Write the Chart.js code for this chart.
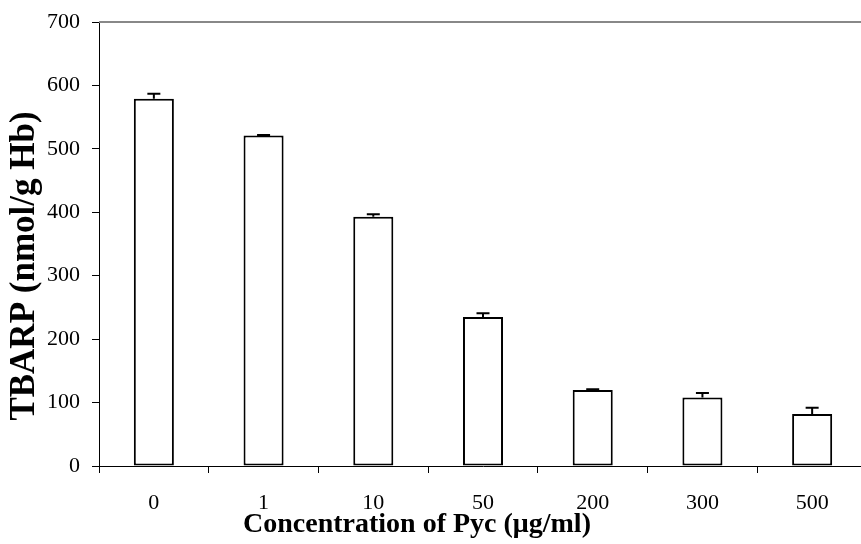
<!DOCTYPE html>
<html>
<head>
<meta charset="utf-8">
<script src="https://cdn.jsdelivr.net/npm/chart.js@4/dist/chart.umd.min.js"></script>
<style>
  html, body { margin: 0; padding: 0; background: #fff; overflow: hidden; }
  #wrap { width: 861px; height: 544px; overflow: hidden; }
</style>
</head>
<body>
<div id="wrap"><canvas id="chart" width="870" height="544"></canvas></div>
<script>
// concentrations of Pyc (ug/ml)
const concentrations = ['0', '1', '10', '50', '200', '300', '500'];
// TBARP (nmol/g Hb) and its error
const tbarp = [579, 521, 393, 235, 120, 108, 82];
const tbarpErr = [8, 1, 4, 6, 1, 7, 10];
const yTicks = [0, 100, 200, 300, 400, 500, 600, 700];

const xTitle = 'Concentration of Pyc (\u03bcg/ml)';
const yTitle = 'TBARP (nmol/g Hb)';

// error bars, drawn through the y scale
const errorBars = {
    id: 'errorBars',
    afterDatasetsDraw(chart) {
        const ctx = chart.ctx;
        const y = chart.scales.y;
        const meta = chart.getDatasetMeta(0);
        ctx.save();
        ctx.strokeStyle = '#000';
        ctx.lineWidth = 2;
        meta.data.forEach((bar, i) => {
            const top = y.getPixelForValue(tbarp[i] + tbarpErr[i]);
            const base = y.getPixelForValue(tbarp[i]);
            ctx.beginPath();
            ctx.moveTo(bar.x, base);
            ctx.lineTo(bar.x, top);
            ctx.moveTo(bar.x - 6.5, top);
            ctx.lineTo(bar.x + 6.5, top);
            ctx.stroke();
        });
        ctx.restore();
    }
};

// top frame line and axis titles
const frame = {
    id: 'frame',
    afterDraw(chart) {
        const ctx = chart.ctx;
        const a = chart.chartArea;
        ctx.save();
        ctx.strokeStyle = '#888';
        ctx.lineWidth = 2;
        ctx.beginPath();
        ctx.moveTo(a.left, a.top);
        ctx.lineTo(a.right + 5, a.top);
        ctx.stroke();

        ctx.fillStyle = '#000';
        ctx.textAlign = 'center';
        ctx.textBaseline = 'alphabetic';
        ctx.font = 'bold 28px "Liberation Serif", "Times New Roman", serif';
        ctx.fillText(xTitle, a.left + 318, 532);

        ctx.translate(34, 266);
        ctx.rotate(-Math.PI / 2);
        ctx.font = 'bold 35px "Liberation Serif", "Times New Roman", serif';
        ctx.fillText(yTitle, 0, 0);
        ctx.restore();
    }
};

const tickFont = { family: '"Liberation Serif", "Times New Roman", serif', size: 22 };

new Chart(document.getElementById('chart'), {
    type: 'bar',
    data: {
        labels: concentrations,
        datasets: [{
            data: tbarp,
            backgroundColor: '#fff',
            borderColor: '#000',
            borderWidth: 2,
            borderSkipped: false,
            barPercentage: 0.365,
            categoryPercentage: 1
        }]
    },
    options: {
        responsive: false,
        animation: false,
        layout: { padding: { top: 22, right: 3, left: 0, bottom: 0 } },
        plugins: {
            legend: { display: false },
            tooltip: { enabled: false }
        },
        scales: {
            x: {
                afterFit(scale) { scale.height = 78; },
                grid: {
                    offset: true,
                    drawOnChartArea: false,
                    tickLength: 7,
                    color: '#000'
                },
                border: { color: '#000', width: 1 },
                ticks: { font: tickFont, color: '#000', padding: 17 }
            },
            y: {
                min: 0,
                max: 700,
                afterFit(scale) {
                    scale.width = 99;
                    scale.paddingTop = 0;
                    scale.paddingBottom = 0;
                },
                afterBuildTicks(scale) { scale.ticks = yTicks.map(v => ({ value: v })); },
                grid: {
                    drawOnChartArea: false,
                    tickLength: 7,
                    color: '#000'
                },
                border: { color: '#000', width: 1 },
                ticks: { font: tickFont, color: '#000', padding: 12 }
            }
        }
    },
    plugins: [errorBars, frame]
});
</script>
</body>
</html>
